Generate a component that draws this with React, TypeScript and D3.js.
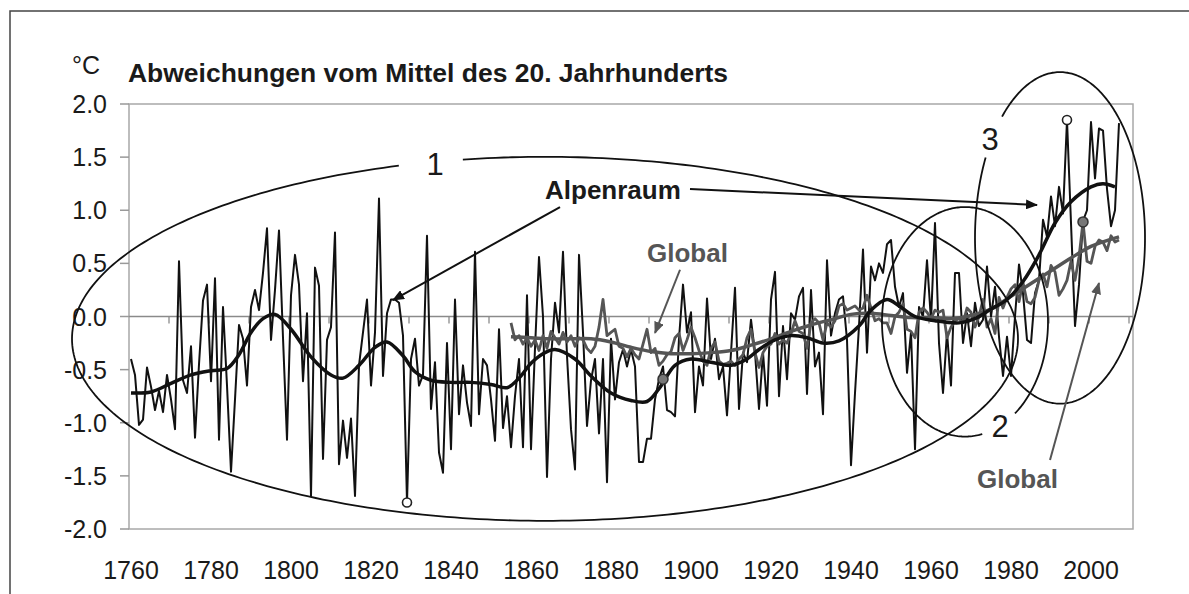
import * as d3 from "d3";

// Alpine annual anomalies (°C), one value per year from 1760
const alpineStart = 1760;
const alpineValues = [
  -0.40, -0.55, -1.02, -0.97, -0.48, -0.66, -0.88, -0.70, -0.90, -0.55,
  -0.78, -1.06, 0.52, -0.60, -0.72, -0.28, -1.14, -0.45, 0.15, 0.30,
  -0.61, 0.36, -1.16, 0.09, -0.65, -1.46, -0.78, -0.08, -0.21, -0.65,
  0.09, 0.25, 0.06, 0.41, 0.83, -0.22, 0.25, 0.81, -0.20, -1.16,
  0.20, 0.58, 0.30, -0.61, 0.03, -1.69, 0.46, 0.29, -1.34, -0.22,
  -0.10, 0.79, -1.39, -0.98, -1.33, -0.96, -1.69, -0.46, -0.15, 0.16,
  -0.65, -0.15, 1.11, -0.56, 0.03, 0.16, 0.16, 0.13, -0.18, -1.75,
  -0.40, -0.21, -0.65, -0.55, 0.76, -0.87, -0.43, -1.28, -1.47, -0.25,
  -1.25, 0.16, -0.92, -0.46, -0.81, -1.03, 0.61, -0.92, -0.40, -0.46,
  -0.78, -1.17, -0.12, -1.05, -0.75, -1.23, -0.75, -0.40, -1.23, 0.20,
  -1.25, -0.30, 0.56, 0.00, -1.51, -0.40, 0.13, -0.15, 0.61, -0.37,
  -1.06, -1.44, 0.58, -0.15, -1.03, -0.60, -0.40, -1.10, -0.40, -1.56,
  -0.21, -0.78, -0.43, -0.31, -0.47, -0.31, -0.47, -1.37, -1.37, -1.15,
  -1.15, -0.78, -0.59, -0.47, -0.88, -0.90, -0.94, -0.21, 0.30, -0.15,
  0.04, -0.90, -0.47, -0.65, 0.17, -0.40, -0.21, -0.59, -0.47, -0.93,
  -0.34, 0.27, -0.87, -0.34, -0.43, -0.03, -0.34, -0.87, -0.34, -0.84,
  0.16, 0.42, -0.75, -0.09, -0.59, 0.03, -0.03, 0.19, 0.27, -0.73,
  0.25, -0.47, -0.34, -0.92, 0.53, -0.18, 0.03, 0.16, 0.19, -0.22,
  -1.40, -0.72, -0.09, 0.63, -0.34, 0.47, 0.34, 0.50, 0.41, 0.68,
  0.72, 0.28, 0.09, 0.22, -0.53, -0.15, -1.25, 0.09, 0.00, 0.53,
  -0.04, 0.88, -0.25, -0.72, -0.15, -0.65, 0.41, 0.41, -0.25, 0.03,
  -0.28, 0.13, -0.09, -0.03, 0.47, 0.00, 0.28, -0.19, -0.56, -0.19,
  -0.56, 0.00, 0.49, 0.22, -0.22, -0.25, 0.22, 0.34, 0.91, 0.75,
  1.13, 0.85, 1.22, 0.97, 1.85, 0.88, -0.09, 0.30, 0.90, 1.00,
  1.83, 1.30, 1.77, 1.75, 1.20, 0.85, 1.00, 1.82,
];

// Global annual anomalies (°C) from 1855
const globalStart = 1855;
const globalValues = [
  -0.06, -0.22, -0.18, -0.26, -0.20,
  -0.28, -0.22, -0.32, -0.18, -0.30, -0.14, -0.20, -0.26, -0.15, -0.24,
  -0.18, -0.28, -0.20, -0.22, -0.30, -0.34, -0.28, -0.10, 0.16, -0.18,
  -0.15, -0.12, -0.28, -0.30, -0.38, -0.30, -0.36, -0.40, -0.26, -0.12,
  -0.34, -0.30, -0.46, -0.42, -0.36, -0.33, -0.20, -0.16, -0.32, -0.22,
  -0.10, -0.20, -0.32, -0.42, -0.46, -0.30, -0.24, -0.42, -0.45, -0.44,
  -0.42, -0.46, -0.40, -0.36, -0.20, -0.12, -0.34, -0.48, -0.34, -0.28,
  -0.26, -0.16, -0.26, -0.22, -0.25, -0.16, -0.04, -0.14, -0.16, -0.30,
  -0.06, -0.02, -0.06, -0.22, -0.06, -0.10, -0.04, 0.10, 0.12, 0.06,
  0.08, 0.10, 0.06, 0.08, 0.20, 0.08, -0.04, -0.02, -0.06, -0.06,
  -0.16, 0.00, 0.04, 0.12, -0.12, -0.14, -0.20, 0.04, 0.08, 0.04,
  -0.02, 0.06, 0.04, 0.06, -0.20, -0.10, -0.04, -0.02, -0.06, 0.08,
  0.04, -0.10, 0.00, 0.16, -0.10, -0.02, -0.16, 0.18, 0.08, 0.18,
  0.26, 0.30, 0.14, 0.32, 0.14, 0.12, 0.18, 0.34, 0.40, 0.28,
  0.48, 0.42, 0.20, 0.26, 0.34, 0.52, 0.34, 0.56, 0.89, 0.52,
  0.50, 0.66, 0.72, 0.70, 0.62, 0.76, 0.70, 0.72,
];

// smoothed curves, read at intervals
const alpineSmoothYears = [
  1760, 1765, 1770, 1775, 1780, 1784, 1787, 1790, 1793, 1796, 1800, 1805, 1810,
  1813, 1817, 1821, 1824, 1828, 1831, 1835, 1840, 1845, 1850, 1854, 1857, 1860,
  1863, 1866, 1871, 1875, 1880, 1885, 1889, 1892, 1896, 1900, 1905, 1910, 1914,
  1917, 1921, 1925, 1929, 1933, 1937, 1942, 1945, 1949, 1952, 1956, 1961, 1967,
  1971, 1975, 1979, 1983, 1987, 1991, 1995, 2000, 2003, 2006,
];
const alpineSmoothValues = [
  -0.72, -0.71, -0.63, -0.55, -0.51, -0.49, -0.36, -0.15, -0.02, 0.02, -0.12,
  -0.38, -0.55, -0.58, -0.46, -0.29, -0.24, -0.37, -0.52, -0.6, -0.62, -0.62,
  -0.64, -0.67, -0.58, -0.44, -0.35, -0.31, -0.4, -0.56, -0.72, -0.79, -0.8,
  -0.68, -0.46, -0.4, -0.43, -0.46, -0.4, -0.31, -0.22, -0.18, -0.2, -0.25,
  -0.23, -0.09, 0.06, 0.16, 0.1, 0.0, -0.04, -0.06, -0.02, 0.07, 0.16, 0.33,
  0.58, 0.88, 1.08, 1.22, 1.25, 1.22,
];
const globalSmoothYears = [
  1855, 1860, 1865, 1870, 1875, 1880, 1885, 1890, 1895, 1900, 1905, 1910, 1915,
  1920, 1925, 1930, 1935, 1940, 1945, 1950, 1955, 1960, 1965, 1970, 1975, 1980,
  1985, 1990, 1995, 2000, 2007,
];
const globalSmoothValues = [
  -0.19, -0.2, -0.21, -0.21, -0.21, -0.24, -0.29, -0.33, -0.35, -0.35, -0.34,
  -0.32, -0.27, -0.21, -0.14, -0.08, -0.03, 0.02, 0.03, 0.01, -0.01, -0.01,
  -0.02, 0.01, 0.07, 0.19, 0.31, 0.43, 0.55, 0.66, 0.75,
];

const yTicks = [2, 1.5, 1, 0.5, 0, -0.5, -1, -1.5, -2];
const xLabels = [1760, 1780, 1800, 1820, 1840, 1860, 1880, 1900, 1920, 1940, 1960, 1980, 2000];
const xTickYears = [1770, 1780, 1790, 1800, 1810, 1820, 1830, 1840, 1850, 1860, 1870, 1880,
  1890, 1900, 1910, 1920, 1930, 1940, 1950, 1960, 1970, 1980, 1990, 2000, 2010];

// annotations in data units
const ellipses = [
  { label: "1", cx: 1863.5, cy: -0.21, rx: 118.25, ry: 1.713, gap: [252, 260], lx: 1836, ly: 1.435 },
  { label: "2", cx: 1968.5, cy: -0.05, rx: 20.75, ry: 1.08, gap: [53, 78], lx: 1977.25, ly: -1.03 },
  { label: "3", cx: 1992.25, cy: 0.74, rx: 21.25, ry: 1.56, gap: [209, 227], lx: 1974.75, ly: 1.67 },
];
const openMarkers = [
  [1829, -1.75],
  [1994, 1.85],
];
const greyMarkers = [
  [1893, -0.59],
  [1998, 0.89],
];

const FONT = "'Liberation Sans', Arial, Helvetica, sans-serif";
const GREY = "#555";
const INK = "#1a1a1a";

export default function App() {
  const width = 1189;
  const height = 594;
  const left = 129;
  const right = 1133;
  const top = 104;
  const bottom = 529;

  const x = d3.scaleLinear().domain([1759.5, 2010.5]).range([left, right]);
  const y = d3.scaleLinear().domain([-2, 2]).range([bottom, top]);

  const rawLine = d3
    .line<[number, number]>()
    .x((d) => x(d[0]))
    .y((d) => y(d[1]));
  const smoothLine = d3
    .line<[number, number]>()
    .x((d) => x(d[0]))
    .y((d) => y(d[1]))
    .curve(d3.curveCatmullRom.alpha(0.5));

  const alpine = alpineValues.map((v, i) => [alpineStart + i, v] as [number, number]);
  const global = globalValues.map((v, i) => [globalStart + i, v] as [number, number]);
  const alpineSmooth = alpineSmoothYears.map((yr, i) => [yr, alpineSmoothValues[i]] as [number, number]);
  const globalSmooth = globalSmoothYears.map((yr, i) => [yr, globalSmoothValues[i]] as [number, number]);

  const ellipsePath = (e: (typeof ellipses)[number]) => {
    const cx = x(e.cx);
    const cy = y(e.cy);
    const rx = x(e.cx + e.rx) - x(e.cx);
    const ry = y(e.cy) - y(e.cy + e.ry);
    const angles = d3.range(e.gap[1], e.gap[0] + 360.5, 1);
    const pts = angles.map((a) => {
      const t = (a * Math.PI) / 180;
      return [cx + rx * Math.cos(t), cy + ry * Math.sin(t)] as [number, number];
    });
    return d3.line()(pts) ?? "";
  };

  const arrow = (x1: number, y1: number, x2: number, y2: number) =>
    `M${x(x1)},${y(y1)}L${x(x2)},${y(y2)}`;

  return (
    <svg
      width={width}
      height={height}
      style={{ position: "absolute", left: 0, top: 0, display: "block", background: "#fff" }}
      fontFamily={FONT}
    >
      <defs>
        <marker id="headBlack" viewBox="0 0 12 10" refX="11" refY="5" markerWidth="12" markerHeight="10"
          markerUnits="userSpaceOnUse" orient="auto">
          <path d="M0,0L12,5L0,10z" fill="#111" />
        </marker>
        <marker id="headGrey" viewBox="0 0 12 10" refX="11" refY="5" markerWidth="12" markerHeight="10"
          markerUnits="userSpaceOnUse" orient="auto">
          <path d="M0,0L12,5L0,10z" fill={GREY} />
        </marker>
      </defs>

      {/* outer frame */}
      <path d={`M10,${height}V11H${width}`} fill="none" stroke="#444" strokeWidth={1.5} />

      {/* plot area */}
      <rect x={left} y={top} width={right - left} height={bottom - top} fill="none" stroke="#a8a8a8" strokeWidth={1.5} />
      {yTicks.map((t) => (
        <g key={t}>
          <line x1={left - 9} x2={left} y1={y(t)} y2={y(t)} stroke="#999" strokeWidth={1.5} />
          <text x={107} y={y(t) + 9} textAnchor="end" fontSize={25} fill={INK}>
            {t.toFixed(1)}
          </text>
        </g>
      ))}
      <line x1={left} x2={right} y1={y(0)} y2={y(0)} stroke="#8a8a8a" strokeWidth={1.5} />
      {xTickYears.map((yr) => (
        <line key={yr} x1={x(yr - 0.5)} x2={x(yr - 0.5)} y1={y(0)} y2={y(0) + 7} stroke="#8a8a8a" strokeWidth={1.3} />
      ))}
      {xLabels.map((yr) => (
        <text key={yr} x={x(yr)} y={579} textAnchor="middle" fontSize={25} fill={INK}>
          {yr}
        </text>
      ))}

      <text x={72} y={74} fontSize={25} fill={INK}>°C</text>
      <text x={128} y={82} fontSize={26} fontWeight="bold" fill={INK} textLength={600} lengthAdjust="spacingAndGlyphs">
        Abweichungen vom Mittel des 20. Jahrhunderts
      </text>

      {/* series */}
      <path d={rawLine(alpine) ?? ""} fill="none" stroke="#111" strokeWidth={2} strokeLinejoin="round" />
      <path d={rawLine(global) ?? ""} fill="none" stroke={GREY} strokeWidth={2.8} strokeLinejoin="round" />
      <path d={smoothLine(globalSmooth) ?? ""} fill="none" stroke={GREY} strokeWidth={3.5} />
      <path d={smoothLine(alpineSmooth) ?? ""} fill="none" stroke="#111" strokeWidth={3.5} />

      {openMarkers.map(([yr, v]) => (
        <circle key={yr} cx={x(yr)} cy={y(v)} r={4.5} fill="#fff" stroke="#222" strokeWidth={1.6} />
      ))}
      {greyMarkers.map(([yr, v]) => (
        <circle key={yr} cx={x(yr)} cy={y(v)} r={5} fill="#777" stroke="#333" strokeWidth={1.5} />
      ))}

      {/* annotations */}
      {ellipses.map((e) => (
        <g key={e.label}>
          <path d={ellipsePath(e)} fill="none" stroke="#111" strokeWidth={1.8} />
          <text x={x(e.lx)} y={y(e.ly)} dy="0.36em" textAnchor="middle" fontSize={31} fill={INK}>
            {e.label}
          </text>
        </g>
      ))}

      <path d={arrow(1867.25, 1.03, 1825.5, 0.155)} stroke="#111" strokeWidth={2} markerEnd="url(#headBlack)" />
      <path d={arrow(1899.75, 1.2, 1986.5, 1.05)} stroke="#111" strokeWidth={2} markerEnd="url(#headBlack)" />
      <path d={arrow(1897.25, 0.44, 1891, -0.155)} stroke={GREY} strokeWidth={2} markerEnd="url(#headGrey)" />
      <path d={arrow(1989.75, -1.35, 2002, 0.315)} stroke={GREY} strokeWidth={2} markerEnd="url(#headGrey)" />

      <text x={x(1863.5)} y={y(1.106)} fontSize={26} fontWeight="bold" fill={INK}>Alpenraum</text>
      <text x={x(1889)} y={y(0.513)} fontSize={26} fontWeight="bold" fill={GREY}>Global</text>
      <text x={x(1971.5)} y={y(-1.614)} fontSize={26} fontWeight="bold" fill={GREY}>Global</text>
    </svg>
  );
}
